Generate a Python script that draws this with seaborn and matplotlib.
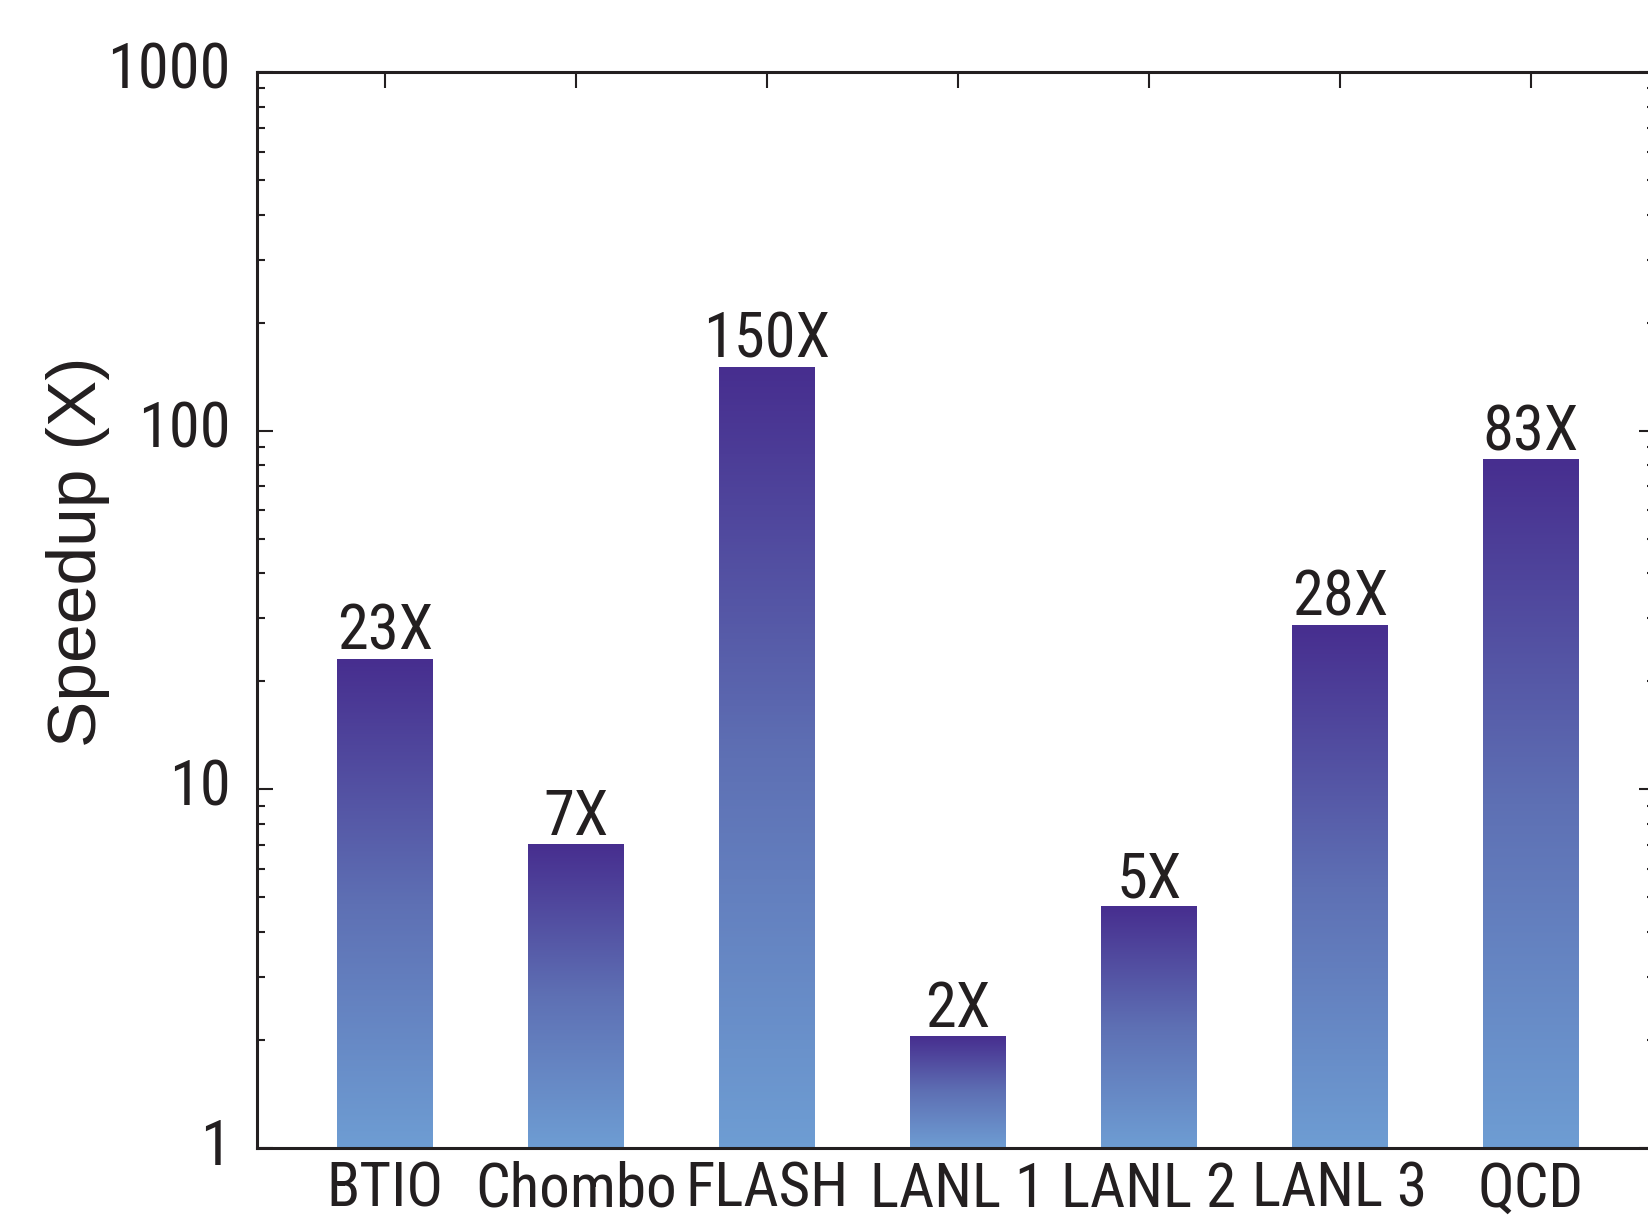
import numpy as np
import matplotlib
matplotlib.use("Agg")
import matplotlib.pyplot as plt
import matplotlib.transforms as mtransforms
from matplotlib.colors import LinearSegmentedColormap
import seaborn as sns

# ---- data ----
categories = ["BTIO", "Chombo", "FLASH", "LANL 1", "LANL 2", "LANL 3", "QCD"]
speedup = [23, 7, 150, 2.05, 4.7, 28.6, 83]
bar_labels = ["23X", "7X", "150X", "2X", "5X", "28X", "83X"]
ytick_vals = [1, 10, 100, 1000]
ytick_labels = ["1", "10", "100", "1000"]

sns.set_theme(style="white")
narrow = ["Liberation Sans Narrow", "Roboto Condensed", "Liberation Sans", "DejaVu Sans"]
regular = ["Liberation Sans", "Arial", "DejaVu Sans"]
plt.rcParams["font.family"] = narrow

fig = plt.figure(figsize=(16.49, 12.19), dpi=100)
ax = fig.add_axes([0.1559, 0.0582, 0.8478, 0.8827])

sns.barplot(x=categories, y=speedup, ax=ax, width=0.5, color="#5B66B1",
            saturation=1, linewidth=0)
ax.set_yscale("log")
ax.set_xlim(-0.67, 6.65)
ax.set_ylim(1, 1000)
ax.set_autoscale_on(False)

# gradient fill for each bar
cmap = LinearSegmentedColormap.from_list("grad", ["#6E9DD3", "#5E70B4", "#472E8F"])
grad = np.linspace(0, 1, 256).reshape(-1, 1)
tr = ax.transScale + ax.transLimits
for p in list(ax.patches):
    x0 = p.get_x()
    w = p.get_width()
    h = p.get_height()
    (ax0, ay0) = tr.transform((x0, 1))
    (ax1, ay1) = tr.transform((x0 + w, h))
    ax.imshow(grad, cmap=cmap, origin="lower", aspect="auto",
              extent=[ax0, ax1, ay0, ay1], transform=ax.transAxes,
              interpolation="bilinear", zorder=2)
    p.set_alpha(0)
ax.set_xlim(-0.67, 6.65)
ax.set_ylim(1, 1000)

# value labels
for i, (v, lab) in enumerate(zip(speedup, bar_labels)):
    ax.annotate(lab, xy=(i, v), xytext=(0, 7), textcoords="offset points",
                ha="center", va="baseline", fontsize=45, color="#231F20",
                family=narrow, zorder=5)

# axes styling
for s in ax.spines.values():
    s.set_linewidth(2.2)
    s.set_color("#231F20")
    s.set_visible(True)

ax.set_yticks(ytick_vals)
ax.set_yticklabels(ytick_labels)
ax.tick_params(axis="y", which="major", direction="in", length=11.5, width=1.5,
               left=True, right=True, pad=19, labelsize=45, colors="#231F20")
ax.tick_params(axis="y", which="minor", direction="in", length=6, width=1.5,
               left=True, right=True, colors="#231F20")
ax.tick_params(axis="x", which="major", direction="in", length=11.5, width=1.5,
               bottom=False, top=True, pad=9, labelsize=44, colors="#231F20")
ax.set_xlabel("")
for lab in ax.get_yticklabels():
    lab.set_transform(lab.get_transform() +
                      mtransforms.ScaledTranslation(0, 7 / 100, fig.dpi_scale_trans))

ax.set_ylabel("Speedup (X)", fontsize=50, family=regular, color="#231F20")
ax.yaxis.set_label_coords(-0.105, 0.554)
ax.grid(False)

fig.savefig("out.png", dpi=100, facecolor="white")
